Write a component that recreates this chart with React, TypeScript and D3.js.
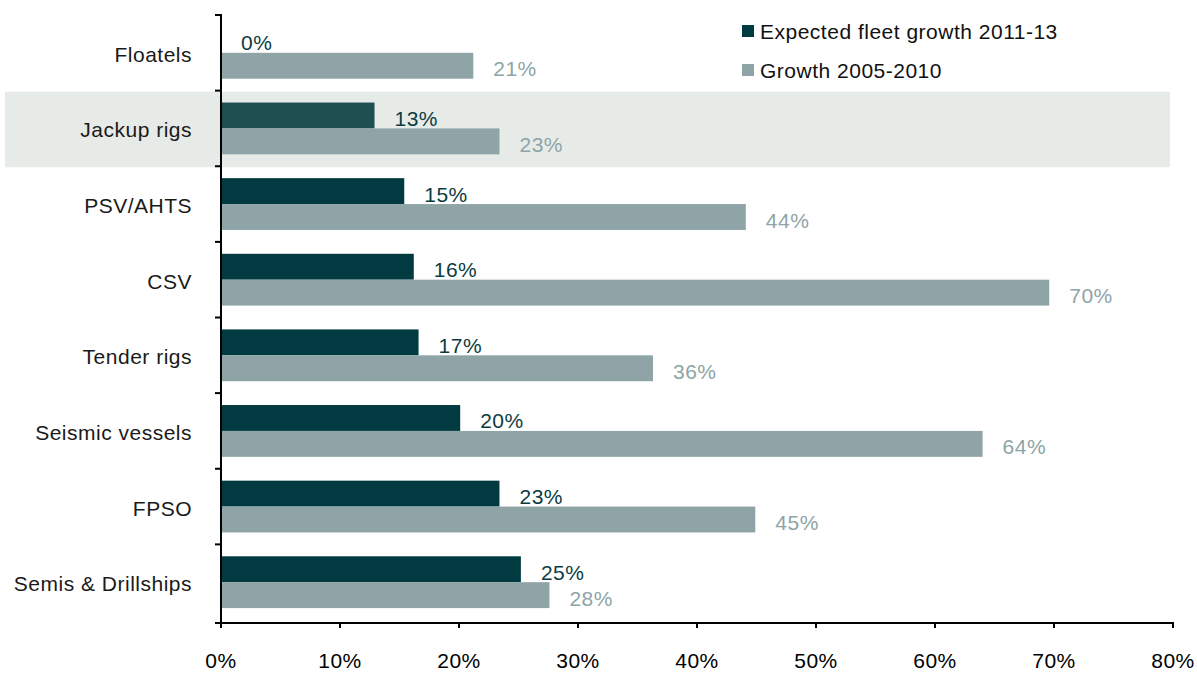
import React from "react";
import * as d3 from "d3";

const categories = ["Floatels", "Jackup rigs", "PSV/AHTS", "CSV", "Tender rigs", "Seismic vessels", "FPSO", "Semis & Drillships"];
const expected2011_13 = [0.0, 12.9, 15.4, 16.2, 16.6, 20.1, 23.4, 25.2];
const growth2005_10 = [21.2, 23.4, 44.1, 69.6, 36.3, 64.0, 44.9, 27.6];
const xTicks = [0, 10, 20, 30, 40, 50, 60, 70, 80];
const seriesNames = ["Expected fleet growth 2011-13", "Growth 2005-2010"];
const highlighted = "Jackup rigs";

const W = 1197;
const H = 673;
const FONT = "'Liberation Sans', Arial, sans-serif";
const DARK = "#013a40";
const DARK_HL = "#1f4f50";
const GRAY = "#8ea4a6";
const LS = 0.5;

export default function App() {
  const x = d3.scaleLinear().domain([0, 80]).range([221, 1173]);
  const y = d3.scaleBand<string>().domain(categories).range([15, 620]).padding(0);
  const sub = d3.scaleBand<string>().domain(["a", "b"]).range([0, y.step()]).paddingInner(0).paddingOuter(0.46);
  const fmt = (v: number) => `${Math.round(v)}%`;
  const axisY = 623;

  return (
    <svg width={W} height={H} style={{ display: "block", position: "absolute", left: 0, top: 0 }} fontFamily={FONT}>
      <rect x={0} y={0} width={W} height={H} fill="#fff" />
      {/* highlight band */}
      <rect x={5} y={(y(highlighted) as number) + 1} width={1165} height={y.step()} fill="#e7ebe8" />

      {/* bars */}
      {categories.map((c, i) => {
        const y0 = y(c) as number;
        const yd = y0 + (sub("a") as number);
        const yg = y0 + (sub("b") as number);
        const bh = sub.bandwidth();
        return (
          <g key={c}>
            {expected2011_13[i] > 0 && (
              <rect x={x(0)} y={yd} width={x(expected2011_13[i]) - x(0)} height={bh} fill={c === highlighted ? DARK_HL : DARK} />
            )}
            <rect x={x(0)} y={yg} width={x(growth2005_10[i]) - x(0)} height={bh} fill={GRAY} />
            <text x={x(expected2011_13[i]) + 20} y={yd + bh / 2 + 10.5} fontSize={21} letterSpacing={LS} fill="#0b3c42">
              {fmt(expected2011_13[i])}
            </text>
            <text x={x(growth2005_10[i]) + 20} y={yg + bh / 2 + 10.5} fontSize={21} letterSpacing={LS} fill={GRAY}>
              {fmt(growth2005_10[i])}
            </text>
            <text x={192} y={y0 + y.step() / 2 + 9} fontSize={21} letterSpacing={LS} textAnchor="end" fill="#1a1a1a">
              {c}
            </text>
          </g>
        );
      })}

      {/* left axis */}
      <line x1={221} x2={221} y1={14} y2={628} stroke="#000" strokeWidth={2} />
      {d3.range(categories.length + 1).map((k) => {
        const ty = k === categories.length ? axisY : 15 + k * y.step();
        return <line key={k} x1={215} x2={221} y1={ty} y2={ty} stroke="#000" strokeWidth={2} />;
      })}

      {/* bottom axis */}
      <line x1={215} x2={x(80) + 1} y1={axisY} y2={axisY} stroke="#000" strokeWidth={2} />
      {xTicks.map((t) => (
        <g key={t}>
          <line x1={x(t)} x2={x(t)} y1={axisY} y2={axisY + 5} stroke="#000" strokeWidth={2} />
          <text x={x(t)} y={668} fontSize={21} letterSpacing={LS} textAnchor="middle" fill="#000">
            {t}%
          </text>
        </g>
      ))}

      {/* legend */}
      {seriesNames.map((s, i) => (
        <g key={s} transform={`translate(742, ${25 + i * 39})`}>
          <rect x={0} y={0} width={12} height={12} fill={i === 0 ? DARK : GRAY} />
          <text x={18} y={14} fontSize={21} letterSpacing={LS} fill="#111">
            {s}
          </text>
        </g>
      ))}
    </svg>
  );
}
